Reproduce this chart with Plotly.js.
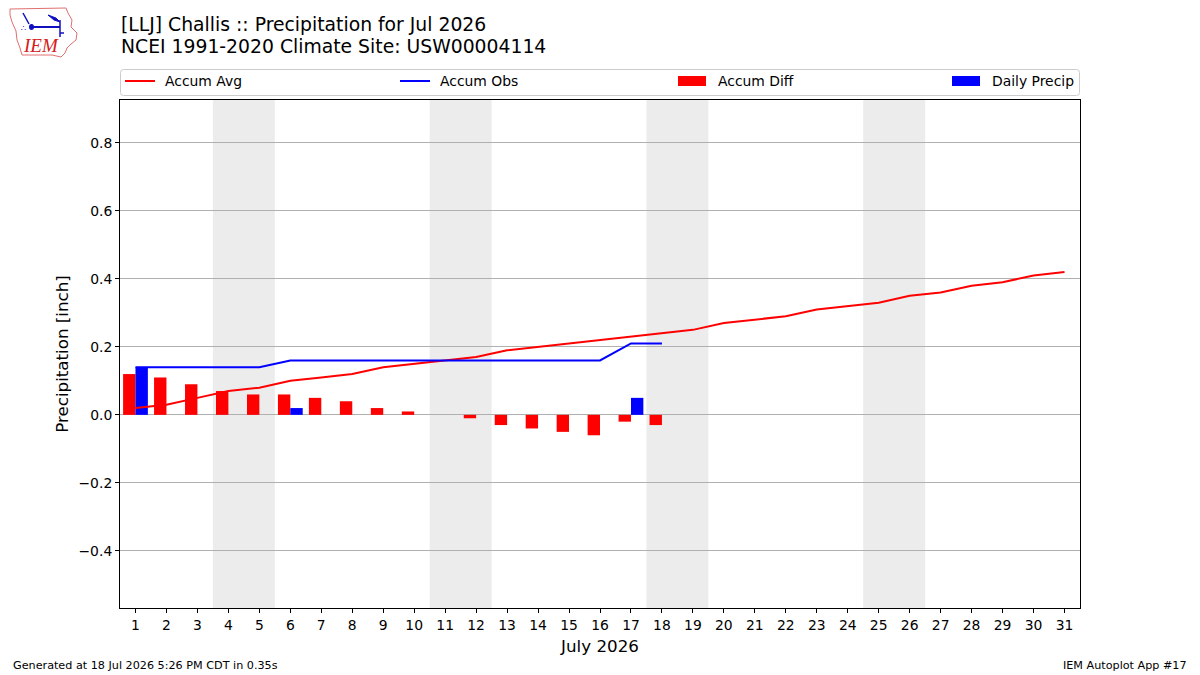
<!DOCTYPE html>
<html>
<head>
<meta charset="utf-8">
<script src="https://cdn.plot.ly/plotly-3.0.1.min.js"></script>
<style>
  html, body { margin: 0; padding: 0; background: #fff; }
  #chart { width: 1200px; height: 675px; }
</style>
</head>
<body>
<div id="chart"></div>
<script>
// Day of month for July 2026
const days = [1,2,3,4,5,6,7,8,9,10,11,12,13,14,15,16,17,18,19,20,21,22,23,24,25,26,27,28,29,30,31];
// Climatological accumulated precipitation (inch)
const accumAvg = [0.02,0.03,0.05,0.07,0.08,0.10,0.11,0.12,0.14,0.15,0.16,0.17,0.19,0.20,0.21,0.22,0.23,0.24,0.25,0.27,0.28,0.29,0.31,0.32,0.33,0.35,0.36,0.38,0.39,0.41,0.42];
// Observed days so far
const obsDays = [1,2,3,4,5,6,7,8,9,10,11,12,13,14,15,16,17,18];
const accumObs = [0.14,0.14,0.14,0.14,0.14,0.16,0.16,0.16,0.16,0.16,0.16,0.16,0.16,0.16,0.16,0.16,0.21,0.21];
const accumDiff = [0.12,0.11,0.09,0.07,0.06,0.06,0.05,0.04,0.02,0.01,0.00,-0.01,-0.03,-0.04,-0.05,-0.06,-0.02,-0.03];
const dailyPrecip = [0.14,0,0,0,0,0.02,0,0,0,0,0,0,0,0,0,0,0.05,0];
// Weekend spans (Sat-Sun)
const weekendStart = [4,11,18,25];
const weekendEnd = [5,12,19,26];

const FONT = 'DejaVu Sans, sans-serif';

// plot area in pixels
const PL = 120, PR = 1080, PT = 100, PB = 608;
const px = v => (v - PL) / (PR - PL);
const py = v => (PB - v) / (PB - PT);

const traces = [
  { type: 'scatter', mode: 'lines', x: days, y: accumAvg, name: 'Accum Avg',
    line: { color: '#ff0000', width: 2 }, hoverinfo: 'skip' },
  { type: 'scatter', mode: 'lines', x: obsDays, y: accumObs, name: 'Accum Obs',
    line: { color: '#0000ff', width: 2 }, hoverinfo: 'skip' },
  { type: 'bar', x: obsDays, y: accumDiff, name: 'Accum Diff',
    offset: -0.4, width: 0.4, marker: { color: '#ff0000', line: { width: 0 } } },
  { type: 'bar', x: obsDays, y: dailyPrecip, name: 'Daily Precip',
    offset: 0, width: 0.4, marker: { color: '#0000ff', line: { width: 0 } } }
];

const shapes = [];
weekendStart.forEach((s, i) => {
  shapes.push({ type: 'rect', xref: 'x', yref: 'paper', x0: s - 0.5, x1: weekendEnd[i] + 0.5,
    y0: 0, y1: 1, fillcolor: '#ececec', line: { width: 0 }, layer: 'below' });
});

// legend frame with rounded corners
(function () {
  const x0 = 120.5, x1 = 1079.5, y0 = 69.5, y1 = 95.5, r = 3;
  const P = (x, y) => px(x) + ',' + py(y);
  const d = 'M ' + P(x0 + r, y0) + ' L ' + P(x1 - r, y0) + ' Q ' + P(x1, y0) + ' ' + P(x1, y0 + r) +
    ' L ' + P(x1, y1 - r) + ' Q ' + P(x1, y1) + ' ' + P(x1 - r, y1) +
    ' L ' + P(x0 + r, y1) + ' Q ' + P(x0, y1) + ' ' + P(x0, y1 - r) +
    ' L ' + P(x0, y0 + r) + ' Q ' + P(x0, y0) + ' ' + P(x0 + r, y0) + ' Z';
  shapes.push({ type: 'path', xref: 'paper', yref: 'paper', path: d,
    line: { color: '#cccccc', width: 1 }, fillcolor: 'rgba(255,255,255,0.8)' });
})();

const annotations = [];
// legend entries
const legendItems = [
  { name: 'Accum Avg', color: '#ff0000', kind: 'line', x: 125 },
  { name: 'Accum Obs', color: '#0000ff', kind: 'line', x: 400 },
  { name: 'Accum Diff', color: '#ff0000', kind: 'box', x: 678 },
  { name: 'Daily Precip', color: '#0000ff', kind: 'box', x: 952 }
];
legendItems.forEach(it => {
  if (it.kind === 'line') {
    shapes.push({ type: 'line', xref: 'paper', yref: 'paper',
      x0: px(it.x), x1: px(it.x + 30), y0: py(81), y1: py(81),
      line: { color: it.color, width: 2 } });
  } else {
    shapes.push({ type: 'rect', xref: 'paper', yref: 'paper',
      x0: px(it.x), x1: px(it.x + 28), y0: py(86), y1: py(76),
      fillcolor: it.color, line: { width: 0 } });
  }
  annotations.push({ xref: 'paper', yref: 'paper', x: px(it.x + 38), y: py(81),
    xanchor: 'left', yanchor: 'middle', showarrow: false, text: it.name,
    font: { family: FONT, size: 13.9, color: '#000' } });
});

// titles
annotations.push({ xref: 'paper', yref: 'paper', x: px(119), y: py(24), xanchor: 'left', yanchor: 'middle',
  showarrow: false, text: '[LLJ] Challis :: Precipitation for Jul 2026',
  font: { family: FONT, size: 18.8, color: '#000' } });
annotations.push({ xref: 'paper', yref: 'paper', x: px(119), y: py(47), xanchor: 'left', yanchor: 'middle',
  showarrow: false, text: 'NCEI 1991-2020 Climate Site: USW00004114',
  font: { family: FONT, size: 18.8, color: '#000' } });
// footer
annotations.push({ xref: 'paper', yref: 'paper', x: px(11), y: py(665), xanchor: 'left', yanchor: 'middle',
  showarrow: false, text: 'Generated at 18 Jul 2026 5:26 PM CDT in 0.35s',
  font: { family: FONT, size: 11.2, color: '#000' } });
annotations.push({ xref: 'paper', yref: 'paper', x: px(1189), y: py(665), xanchor: 'right', yanchor: 'middle',
  showarrow: false, text: 'IEM Autoplot App #17',
  font: { family: FONT, size: 11.2, color: '#000' } });

// logo: state outline with station glyph and IEM lettering
const outline = [[10,9],[66,8],[68,13],[72,20],[71,27],[77,33],[76,40],[71,44],[67,48],[65,53],[61,57],[52,55],[22,55],[20,48],[17,40],[16,31],[12,22],[10,15]];
let path = 'M ' + outline.map(p => px(p[0]) + ',' + py(p[1])).join(' L ') + ' Z';
shapes.push({ type: 'path', xref: 'paper', yref: 'paper', path: path,
  line: { color: '#e07070', width: 1 }, fillcolor: 'rgba(0,0,0,0)' });
shapes.push({ type: 'line', xref: 'paper', yref: 'paper', x0: px(31), x1: px(60), y0: py(27), y1: py(27),
  line: { color: '#1010c0', width: 2 } });
shapes.push({ type: 'circle', xref: 'paper', yref: 'paper', x0: px(29), x1: px(34), y0: py(30), y1: py(24),
  fillcolor: '#1010c0', line: { width: 0 } });
shapes.push({ type: 'line', xref: 'paper', yref: 'paper', x0: px(23), x1: px(29), y0: py(13), y1: py(24),
  line: { color: '#1010c0', width: 1.5 } });
shapes.push({ type: 'path', xref: 'paper', yref: 'paper',
  path: 'M ' + px(48) + ',' + py(15) + ' L ' + px(56) + ',' + py(18) + ' L ' + px(60) + ',' + py(22) + ' L ' + px(54) + ',' + py(20) + ' Z',
  fillcolor: '#1010c0', line: { color: '#1010c0', width: 1 } });
shapes.push({ type: 'line', xref: 'paper', yref: 'paper', x0: px(60), x1: px(60), y0: py(20), y1: py(37),
  line: { color: '#1010c0', width: 1.5 } });
shapes.push({ type: 'line', xref: 'paper', yref: 'paper', x0: px(60), x1: px(64), y0: py(33), y1: py(33),
  line: { color: '#1010c0', width: 1.5 } });
annotations.push({ xref: 'paper', yref: 'paper', x: px(21), y: py(46), xanchor: 'left', yanchor: 'middle',
  showarrow: false, text: '<i>IEM</i>',
  font: { family: 'Liberation Serif, serif', size: 19, color: '#d42020' } });
annotations.push({ xref: 'paper', yref: 'paper', x: px(23), y: py(28), xanchor: 'center', yanchor: 'middle',
  showarrow: false, text: '∴', font: { family: FONT, size: 8, color: '#1010c0' } });

const layout = {
  width: 1200, height: 675,
  margin: { l: PL, r: 1200 - PR, t: PT, b: 675 - PB, pad: 0 },
  paper_bgcolor: '#ffffff', plot_bgcolor: '#ffffff',
  showlegend: false,
  barmode: 'overlay',
  font: { family: FONT, size: 13.9, color: '#000' },
  xaxis: {
    range: [0.5, 31.5], tickmode: 'array', tickvals: days, ticktext: days.map(String),
    ticks: 'outside', ticklen: 4, tickcolor: '#000', tickwidth: 1,
    showline: true, linecolor: '#000', linewidth: 1, mirror: true,
    showgrid: false, zeroline: false,
    tickfont: { family: FONT, size: 13.9, color: '#000' },
    title: { text: 'July 2026', font: { family: FONT, size: 16.7, color: '#000' }, standoff: 8 }
  },
  yaxis: {
    range: [-0.568, 0.926], tickmode: 'linear', tick0: 0, dtick: 0.2, tickformat: '.1f',
    ticks: 'outside', ticklen: 4, tickcolor: '#000', tickwidth: 1,
    showline: true, linecolor: '#000', linewidth: 1, mirror: true,
    showgrid: true, gridcolor: '#b0b0b0', gridwidth: 1, zeroline: false,
    tickfont: { family: FONT, size: 13.9, color: '#000' },
    title: { text: 'Precipitation [inch]', font: { family: FONT, size: 16.7, color: '#000' }, standoff: 5 }
  },
  shapes: shapes,
  annotations: annotations
};

Plotly.newPlot('chart', traces, layout, { staticPlot: true, displayModeBar: false });
</script>
</body>
</html>
